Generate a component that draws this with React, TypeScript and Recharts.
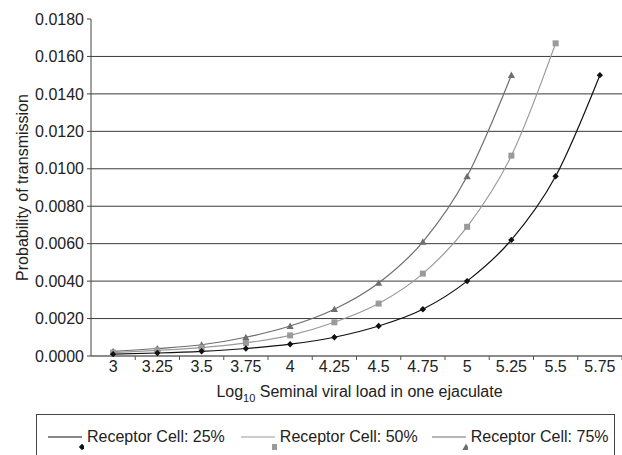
import React from "react";
import {
  LineChart,
  Line,
  XAxis,
  YAxis,
  ReferenceLine,
  Label,
} from "recharts";

const viralLoad = ["3", "3.25", "3.5", "3.75", "4", "4.25", "4.5", "4.75", "5", "5.25", "5.5", "5.75"];

const cell25 = [0.0001, 0.00016, 0.00025, 0.0004, 0.00063, 0.001, 0.0016, 0.0025, 0.004, 0.0062, 0.0096, 0.015];
const cell50 = [0.00018, 0.0003, 0.00045, 0.0007, 0.0011, 0.0018, 0.0028, 0.0044, 0.0069, 0.0107, 0.0167, null];
const cell75 = [0.00025, 0.0004, 0.0006, 0.001, 0.0016, 0.0025, 0.0039, 0.0061, 0.0096, 0.015, null, null];

const yTicks = [0, 0.002, 0.004, 0.006, 0.008, 0.01, 0.012, 0.014, 0.016, 0.018];

const seriesNames = ["Receptor Cell: 25%", "Receptor Cell: 50%", "Receptor Cell: 75%"];

const data = viralLoad.map((v, i) => ({
  load: v,
  c25: cell25[i],
  c50: cell50[i],
  c75: cell75[i],
}));

const FONT = "'Liberation Sans', Arial, sans-serif";
const C25 = "#111";
const C50 = "#9a9a9a";
const C75 = "#6e6e6e";

function Diamond({ cx, cy, fill }: any) {
  if (cx == null || cy == null) return null;
  const r = 3.2;
  return <path d={`M${cx},${cy - r}L${cx + r},${cy}L${cx},${cy + r}L${cx - r},${cy}Z`} fill={fill} />;
}

function Square({ cx, cy, fill }: any) {
  if (cx == null || cy == null) return null;
  const r = 3;
  return <rect x={cx - r} y={cy - r} width={r * 2} height={r * 2} fill={fill} />;
}

function Triangle({ cx, cy, fill }: any) {
  if (cx == null || cy == null) return null;
  const r = 3.6;
  return <path d={`M${cx},${cy - r}L${cx + r},${cy + r * 0.8}L${cx - r},${cy + r * 0.8}Z`} fill={fill} />;
}

// category label plus a tick mark on the boundary to its right (Excel style)
function XTick(props: any) {
  const { x, y, payload } = props;
  const half = payload?.offset || 22;
  return (
    <g>
      <line x1={x + half} x2={x + half} y1={y - 5} y2={y - 1} stroke="#555" />
      <text x={x} y={y} dy="0.71em" textAnchor="middle" fill="#222" fontSize={16} fontFamily={FONT}>
        {payload.value}
      </text>
    </g>
  );
}

const markers = [
  (x: number, y: number) => <Diamond cx={x} cy={y} fill={C25} />,
  (x: number, y: number) => <Square cx={x} cy={y} fill={C50} />,
  (x: number, y: number) => <Triangle cx={x} cy={y} fill={C75} />,
];
const legendColors = [C25, C50, C75];

export default function App() {
  return (
    <div style={{ position: "absolute", left: 0, top: 0, width: 622, height: 455, background: "#fff", overflow: "hidden" }}>
      <LineChart width={622} height={410} data={data} margin={{ top: 19, right: 0, left: 0, bottom: 4 }}>
        {yTicks.slice(1, -1).map((t) => (
          <ReferenceLine key={t} y={t} stroke="#3a3a3a" strokeWidth={1} />
        ))}
        <XAxis
          dataKey="load"
          scale="band"
          height={50}
          stroke="#666"
          strokeWidth={1.5}
          tickLine={false}
          tickSize={4}
          tickMargin={1}
          interval={0}
          tick={<XTick />}
        >
          <Label
            content={({ viewBox }: any) => (
              <text
                x={viewBox.x + viewBox.width / 2 + 3}
                y={viewBox.y + 41}
                textAnchor="middle"
                fill="#222"
                fontSize={16}
                fontFamily={FONT}
              >
                Log
                <tspan fontSize={11} dy={5}>10</tspan>
                <tspan dy={-5}> Seminal viral load in one ejaculate</tspan>
              </text>
            )}
          />
        </XAxis>
        <YAxis
          width={91}
          domain={[0, 0.018]}
          ticks={yTicks}
          interval={0}
          stroke="#444"
          tickSize={4}
          tickMargin={3}
          tick={{ fill: "#222", fontSize: 16, fontFamily: FONT }}
          tickFormatter={(v: number) => v.toFixed(4)}
        >
          <Label
            content={({ viewBox }: any) => (
              <text
                x={viewBox.x + 28}
                y={viewBox.y + viewBox.height / 2}
                textAnchor="middle"
                transform={`rotate(-90, ${viewBox.x + 28}, ${viewBox.y + viewBox.height / 2})`}
                fill="#222"
                fontSize={16}
                fontFamily={FONT}
              >
                Probability of transmission
              </text>
            )}
          />
        </YAxis>
        <Line
          type="monotone"
          dataKey="c75"
          stroke={C75}
          strokeWidth={1.2}
          dot={<Triangle fill={C75} />}
          activeDot={false}
          isAnimationActive={false}
        />
        <Line
          type="monotone"
          dataKey="c50"
          stroke={C50}
          strokeWidth={1.2}
          dot={<Square fill={C50} />}
          activeDot={false}
          isAnimationActive={false}
        />
        <Line
          type="monotone"
          dataKey="c25"
          stroke={C25}
          strokeWidth={1.2}
          dot={<Diamond fill={C25} />}
          activeDot={false}
          isAnimationActive={false}
        />
      </LineChart>
      <div
        style={{
          position: "absolute",
          left: 36,
          top: 414,
          width: 579,
          height: 50,
          border: "1px solid #444",
          boxSizing: "border-box",
          display: "flex",
          paddingLeft: 11,
          paddingTop: 12,
          fontFamily: FONT,
          fontSize: 16,
          color: "#222",
        }}
      >
        {seriesNames.map((name, i) => (
          <div key={name} style={{ display: "flex", alignItems: "flex-start", marginRight: i === 0 ? 16 : 14 }}>
            <svg width={36} height={26} style={{ marginRight: 3, flex: "none" }}>
              <line x1={0} x2={34} y1={10} y2={10} stroke={legendColors[i]} strokeWidth={1.2} />
              {markers[i](34, 20)}
            </svg>
            <span style={{ lineHeight: "20px", whiteSpace: "nowrap" }}>{name}</span>
          </div>
        ))}
      </div>
    </div>
  );
}
